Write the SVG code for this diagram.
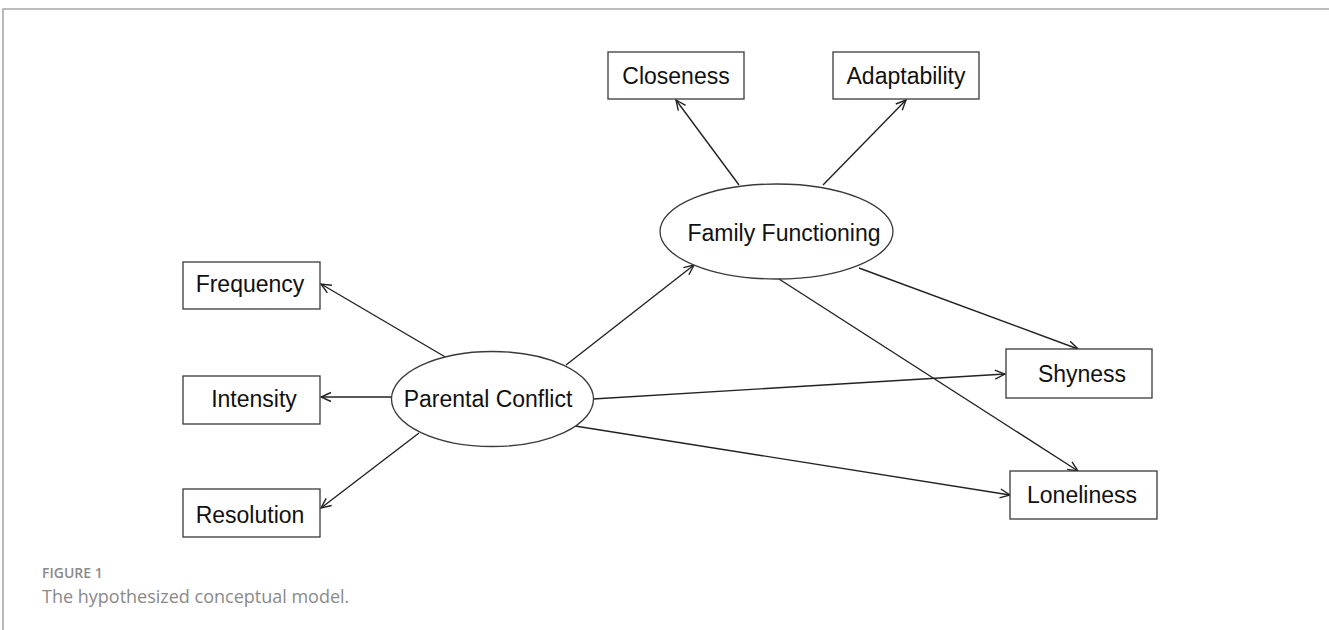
<svg xmlns="http://www.w3.org/2000/svg" width="1329" height="630" viewBox="0 0 1329 630">
<defs>
<style>
.box{fill:#fff;stroke:#3a3a3a;stroke-width:1.3}
.lbl{font-family:"Liberation Sans",Arial,sans-serif;font-size:23px;fill:#111;text-anchor:middle}
.con line{stroke:#222;stroke-width:1.4;marker-end:url(#arr)}
.frame{stroke:#a8a8a8;stroke-width:1.6;fill:none}
.cap{font-family:"Open Sans","Liberation Sans",sans-serif;fill:#8a8a8a}
</style>
<marker id="arr" viewBox="0 0 12 12" refX="11" refY="6" markerWidth="12" markerHeight="12" markerUnits="userSpaceOnUse" orient="auto">
<path d="M1,1.5 L11,6 L1,10.5" fill="none" stroke="#222" stroke-width="1.4"/>
</marker>
</defs>
<rect width="1329" height="630" fill="#fff"/>
<path class="frame" d="M3,630 L3,9 L1329,9"/>
<g class="con">
<line x1="739" y1="185" x2="676" y2="100"/>
<line x1="823" y1="185" x2="906" y2="100"/>
<line x1="566" y1="365" x2="694" y2="265"/>
<line x1="859" y1="268" x2="1078" y2="349"/>
<line x1="779" y1="279" x2="1078" y2="471"/>
<line x1="593" y1="399" x2="1005" y2="374"/>
<line x1="575" y1="426" x2="1010" y2="495"/>
<line x1="447" y1="358" x2="321" y2="284"/>
<line x1="392" y1="397" x2="321" y2="397"/>
<line x1="419" y1="433" x2="321" y2="508"/>
</g>
<g id="closeness"><rect class="box" x="608" y="52" width="136" height="47"/><text class="lbl" x="676" y="84">Closeness</text></g>
<g id="adaptability"><rect class="box" x="833" y="52" width="146" height="47"/><text class="lbl" x="906" y="84">Adaptability</text></g>
<g id="family-functioning"><ellipse class="box" cx="776.5" cy="231.5" rx="116.5" ry="47.5"/><text class="lbl" x="784" y="241">Family Functioning</text></g>
<g id="frequency"><rect class="box" x="183" y="262" width="137" height="47"/><text class="lbl" x="250" y="292">Frequency</text></g>
<g id="intensity"><rect class="box" x="183" y="376" width="137" height="48"/><text class="lbl" x="254" y="407">Intensity</text></g>
<g id="resolution"><rect class="box" x="183" y="489" width="137" height="48"/><text class="lbl" x="250" y="523">Resolution</text></g>
<g id="parental-conflict"><ellipse class="box" cx="492.5" cy="399" rx="101" ry="47.5"/><text class="lbl" x="488" y="407">Parental Conflict</text></g>
<g id="shyness"><rect class="box" x="1006" y="349" width="146" height="49"/><text class="lbl" x="1082" y="382">Shyness</text></g>
<g id="loneliness"><rect class="box" x="1010" y="471" width="147" height="48"/><text class="lbl" x="1082" y="503">Loneliness</text></g>
<text class="cap" x="42" y="578" font-size="14" font-weight="600">FIGURE 1</text>
<text class="cap" x="42" y="603" font-size="18">The hypothesized conceptual model.</text>
</svg>
